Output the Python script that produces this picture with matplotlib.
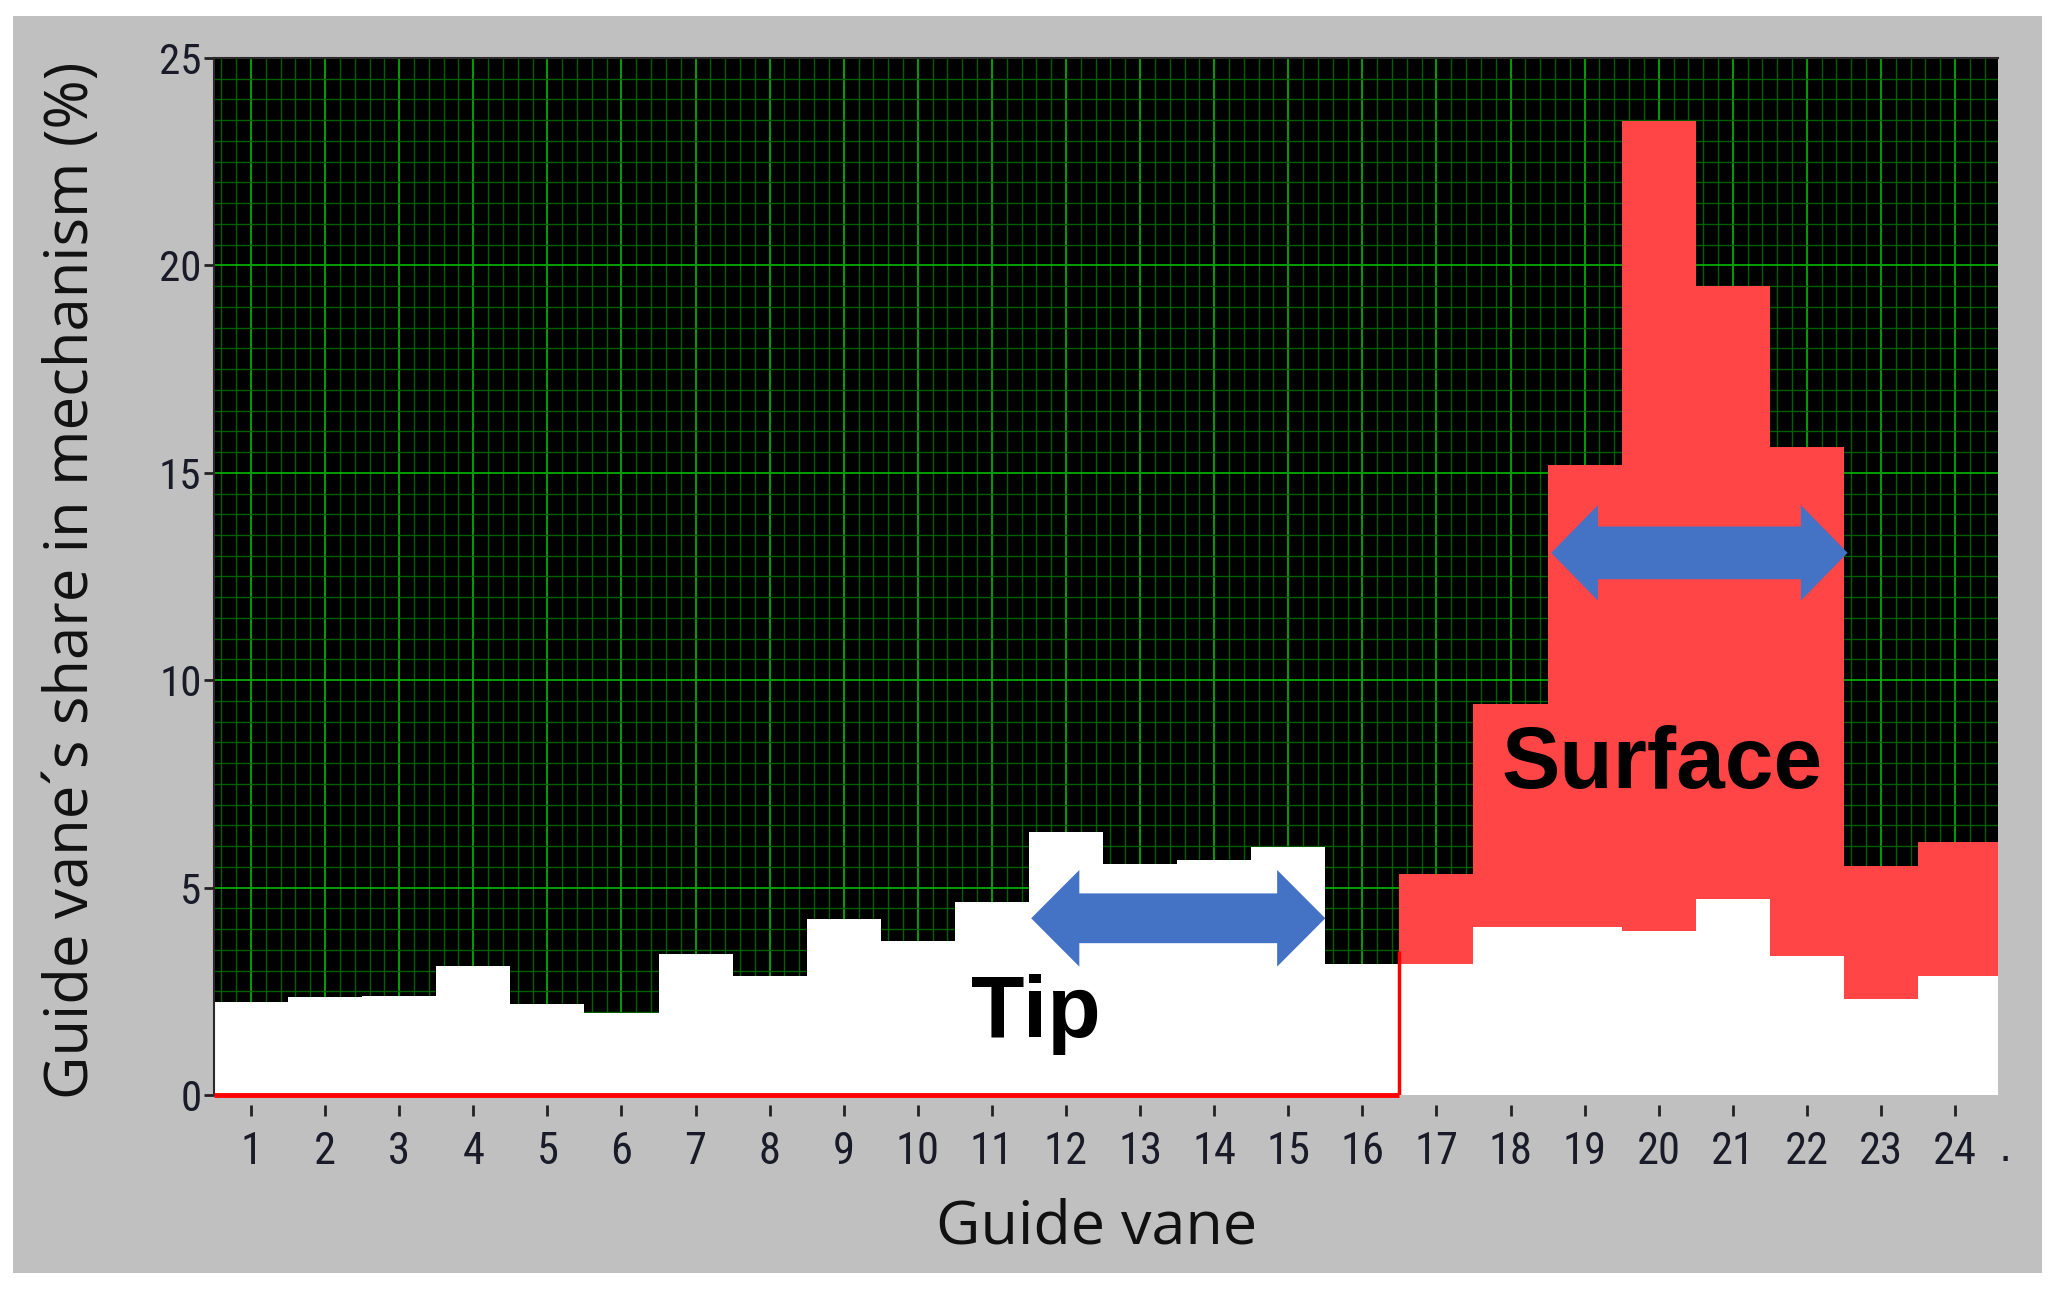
import matplotlib.pyplot as plt
from matplotlib.patches import Polygon, Rectangle
from matplotlib.ticker import MultipleLocator

# guide vane numbers and shares (%)
vanes = list(range(1, 25))
tip = [2.25, 2.36, 2.38, 3.10, 2.20, 1.97, 3.40, 2.87, 4.24, 3.71, 4.66, 6.34,
       5.58, 5.67, 5.98, 3.15, 3.15, 4.05, 4.05, 3.96, 4.73, 3.34, 2.32, 2.86]
surface_vanes = list(range(17, 25))
surface = [2.17, 5.37, 11.13, 19.51, 14.77, 12.27, 3.19, 3.25]
red_edge_level = 3.47  # where the red step line ends at vane 16.5
yticks = [0, 5, 10, 15, 20, 25]

W, H = 2058, 1290
fig = plt.figure(figsize=(W / 100, H / 100), dpi=100)
fig.patch.set_facecolor('white')
# grey panel behind everything
fig.patches.append(Rectangle((13 / W, 1 - 1273 / H), (2042 - 13) / W, (1273 - 16) / H,
                             transform=fig.transFigure, facecolor='#c0c0c0',
                             edgecolor='none', zorder=-10))

ax = fig.add_axes([214 / W, 1 - 1095 / H, (1998 - 214) / W, (1095 - 58) / H])
ax.set_facecolor('black')
ax.set_xlim(0.5, 24.58)
ax.set_ylim(0, 25)

for s in ax.spines.values():
    s.set_color('#2a2a2a')
    s.set_linewidth(1.5)
ax.spines['right'].set_visible(False)
# bottom ticks sit a little below the plot, with no visible axis line
ax.spines['bottom'].set_position(('outward', 7))
ax.spines['bottom'].set_edgecolor('none')

ax.set_xticks(vanes)
ax.set_yticks(yticks)
ax.xaxis.set_minor_locator(MultipleLocator(0.2))
ax.yaxis.set_minor_locator(MultipleLocator(0.5))
ax.set_axisbelow(True)
ax.grid(which='minor', color='#006000', lw=1.0)
ax.grid(which='major', color='#00a000', lw=1.4)

tick_font = ['Roboto Condensed', 'Open Sans Condensed', 'Open Sans', 'DejaVu Sans']
ax.tick_params(which='minor', length=0)
ax.tick_params(axis='x', which='major', length=8, width=2, color='#222222',
               pad=11, labelsize=32, labelcolor='#1a1a28', labelfontfamily=tick_font)
ax.tick_params(axis='y', which='major', length=7, width=2, color='#222222',
               pad=2, labelsize=31, labelcolor='#1a1a28', labelfontfamily=tick_font)

# bars: tip (white) and surface (red) stacked on top; the last step runs to the plot edge
left_edges = [v - 0.5 for v in vanes]
widths = [1.0] * (len(vanes) - 1) + [1.2]
ax.bar(left_edges, tip, width=widths, align='edge', color='white', linewidth=0, zorder=2)
ax.bar(left_edges[16:], surface, bottom=tip[16:], width=widths[16:], align='edge',
       color='#ff4545', linewidth=0, zorder=2)

# red step line along the bottom of the tip region
ax.hlines(0, 0.5, 16.5, color='#ff0000', lw=3.5, zorder=3, clip_on=False)
ax.vlines(16.5, 0, red_edge_level, color='#ff0000', lw=2.5, zorder=3)


def double_arrow(x0, x1, yc, shaft, head, head_len, color='#4472c4'):
    pts = [(x0, yc), (x0 + head_len, yc + head / 2), (x0 + head_len, yc + shaft / 2),
           (x1 - head_len, yc + shaft / 2), (x1 - head_len, yc + head / 2), (x1, yc),
           (x1 - head_len, yc - head / 2), (x1 - head_len, yc - shaft / 2),
           (x0 + head_len, yc - shaft / 2), (x0 + head_len, yc - head / 2)]
    ax.add_patch(Polygon(pts, closed=True, facecolor=color, edgecolor='none', zorder=4))


double_arrow(11.53, 15.5, 4.26, 1.2, 2.33, 0.65)
double_arrow(18.55, 22.55, 13.07, 1.27, 2.3, 0.63)

ax.text(11.6, 1.93, 'Tip', fontsize=63, fontweight='bold', family='Liberation Sans',
        ha='center', va='center', color='black', zorder=5)
ax.text(20.05, 7.94, 'Surface', fontsize=63, fontweight='bold', family='Liberation Sans',
        ha='center', va='center', color='black', zorder=5)
ax.text(24.68, -1.3, '.', fontsize=30, ha='center', va='center', color='#1a1a28',
        clip_on=False)

fig.text(1097 / W, 1 - 1227 / H, 'Guide vane', fontsize=44, family=['Open Sans', 'DejaVu Sans'],
         ha='center', va='center', color='#111111')
fig.text(72 / W, 1 - 580 / H, 'Guide vane\u00b4s share in mechanism (%)', fontsize=43,
         family=['Open Sans', 'DejaVu Sans'], rotation=90, ha='center', va='center',
         color='#111111')

fig.savefig('out.png', dpi=100, facecolor='white')
